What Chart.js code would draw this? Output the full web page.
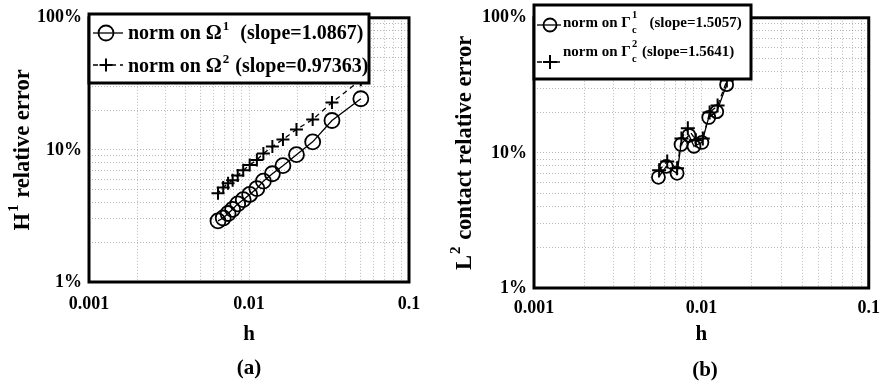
<!DOCTYPE html>
<html>
<head>
<meta charset="utf-8">
<script src="https://cdn.jsdelivr.net/npm/chart.js@4.4.1/dist/chart.umd.min.js"></script>
<style>
  body { margin: 0; background: #fff; }
  #wrap { position: relative; width: 890px; height: 385px; }
  .panel { position: absolute; top: 0; width: 445px; height: 385px; }
</style>
</head>
<body>
<div id="wrap">
  <div class="panel" style="left:0"><canvas id="chartA" width="445" height="385"></canvas></div>
  <div class="panel" style="left:445px"><canvas id="chartB" width="445" height="385"></canvas></div>
</div>
<script>
// (a) H1 relative error (%) against mesh size h
const hA = [0.05, 0.033, 0.025, 0.0198, 0.0163, 0.014, 0.0123, 0.0112, 0.0101, 0.0092, 0.0085, 0.0079, 0.0074, 0.0069, 0.0064];
const errOmega1 = [24.4, 16.7, 11.5, 9.2, 7.6, 6.6, 5.8, 5.1, 4.6, 4.2, 3.9, 3.55, 3.3, 3.05, 2.9];
const errOmega2 = [34, 22.8, 17.0, 14.3, 12.0, 10.6, 9.4, 8.4, 7.7, 7.0, 6.4, 5.9, 5.6, 5.2, 4.7];

// (b) L2 contact relative error (%) against h
const hB1 = [0.00554, 0.00617, 0.00716, 0.00756, 0.00843, 0.00903, 0.01007, 0.01107, 0.01235, 0.01415];
const errGamma1 = [6.6, 7.95, 7.06, 11.55, 13.5, 11.2, 11.95, 18.3, 20.2, 32.0];
const hB2 = [0.00559, 0.00625, 0.00716, 0.0076, 0.0083, 0.00927, 0.0102, 0.0112, 0.0125, 0.0142];
const errGamma2 = [7.43, 8.65, 7.69, 12.8, 15.2, 12.4, 12.8, 19.9, 22.4, 34.3];

// axis ticks (grid at every 1..9 x decade, labels at decades)
const xDecades = [0.001, 0.01, 0.1];
const xTickLabels = ['0.001', '0.01', '0.1'];
const yDecades = [1, 10, 100];
const yTickLabels = ['1%', '10%', '100%'];
const mantissas = [1, 2, 3, 4, 5, 6, 7, 8, 9];

const slopesA = ['1.0867', '0.97363'];
const slopesB = ['1.5057', '1.5641'];

const FONT = '"Liberation Serif", "Times New Roman", serif';
Chart.defaults.font.family = FONT;
Chart.defaults.font.weight = 'bold';
Chart.defaults.color = '#000';

function gridValues(decades) {
  const out = [];
  decades.forEach((d, i) => {
    if (i === decades.length - 1) { out.push(d); return; }
    mantissas.forEach(m => out.push(+(m * d).toPrecision(3)));
  });
  return out;
}

function pairs(xs, ys) {
  return xs.map((x, i) => ({ x: x, y: ys[i] }));
}

// draws text pieces: {t} plain, {sup, sub} small raised / lowered
function drawParts(ctx, parts, x, y, fs, sfs, supOff, subOff, measureOnly) {
  let cx = x;
  parts.forEach(p => {
    if (p.t !== undefined) {
      ctx.font = 'bold ' + fs + 'px ' + FONT;
      if (!measureOnly) ctx.fillText(p.t, cx, y);
      cx += ctx.measureText(p.t).width;
    } else {
      ctx.font = 'bold ' + sfs + 'px ' + FONT;
      let w = 0;
      if (p.sup) {
        if (!measureOnly) ctx.fillText(p.sup, cx + 1, y - supOff);
        w = Math.max(w, ctx.measureText(p.sup).width);
      }
      if (p.sub) {
        if (!measureOnly) ctx.fillText(p.sub, cx + 1, y + subOff);
        w = Math.max(w, ctx.measureText(p.sub).width);
      }
      cx += w + 2;
    }
  });
  return cx - x;
}

// frame, y title, custom legend box and panel letter
const decorPlugin = {
  id: 'decor',
  afterDraw(chart, args, o) {
    const ctx = chart.ctx;
    const a = chart.chartArea;
    ctx.save();
    ctx.strokeStyle = '#000';
    ctx.lineWidth = 3;
    ctx.strokeRect(a.left, a.top, a.right - a.left, a.bottom - a.top);

    // rotated y-axis title with superscript
    const T = o.yTitle;
    ctx.save();
    ctx.translate(T.x, (a.top + a.bottom) / 2);
    ctx.rotate(-Math.PI / 2);
    ctx.fillStyle = '#000';
    ctx.textBaseline = 'middle';
    ctx.textAlign = 'left';
    const tw = drawParts(ctx, T.parts, 0, 0, T.fs, T.sfs, T.supOff, 0, true);
    drawParts(ctx, T.parts, -tw / 2, 0, T.fs, T.sfs, T.supOff, 0, false);
    ctx.restore();

    const L = o.legend;
    ctx.fillStyle = '#fff';
    ctx.fillRect(L.x, L.y, L.w, L.h);
    ctx.strokeRect(L.x, L.y, L.w, L.h);

    L.rows.forEach((row, i) => {
      const ds = chart.data.datasets[i];
      ctx.strokeStyle = '#000';
      ctx.lineWidth = ds.borderWidth;
      ctx.setLineDash(ds.borderDash || []);
      ctx.beginPath();
      ctx.moveTo(L.lineX0, row.ly);
      ctx.lineTo(L.lineX1, row.ly);
      ctx.stroke();
      ctx.setLineDash([]);
      ctx.fillStyle = 'rgba(0,0,0,0)';
      ctx.lineWidth = ds.pointBorderWidth;
      Chart.helpers.drawPoint(ctx, {
        pointStyle: ds.pointStyle, radius: ds.pointRadius,
        borderWidth: ds.pointBorderWidth, rotation: 0
      }, L.markX, row.ly);

      ctx.fillStyle = '#000';
      ctx.textBaseline = 'alphabetic';
      ctx.textAlign = 'left';
      drawParts(ctx, row.parts, L.textX, row.ty, L.fs, L.sfs, L.supOff, L.subOff, false);
    });

    ctx.font = 'bold 21px ' + FONT;
    ctx.fillStyle = '#000';
    ctx.textAlign = 'center';
    ctx.textBaseline = 'middle';
    ctx.fillText(o.panel.text, o.panel.x, o.panel.y);
    ctx.restore();
  }
};

function makeChart(id, cfg) {
  const xGrid = gridValues(xDecades);
  const yGrid = gridValues(yDecades);
  const grid = { color: 'rgba(0,0,0,0.28)', lineWidth: 1, drawTicks: false };
  return new Chart(document.getElementById(id), {
    type: 'line',
    data: { datasets: cfg.datasets },
    plugins: [decorPlugin],
    options: {
      responsive: false,
      animation: false,
      layout: { padding: cfg.padding },
      plugins: {
        legend: { display: false },
        tooltip: { enabled: false },
        decor: { legend: cfg.legend, panel: cfg.panel, yTitle: cfg.yTitle }
      },
      scales: {
        x: {
          type: 'logarithmic',
          min: xDecades[0], max: xDecades[xDecades.length - 1],
          grid: grid,
          border: { display: false, dash: [1, 2] },
          afterBuildTicks: s => { s.ticks = xGrid.map(v => ({ value: v })); },
          afterFit: s => { s.height = cfg.xHeight; },
          ticks: {
            autoSkip: false, maxRotation: 0, padding: cfg.xTickPad,
            font: { size: 18, weight: 'bold' },
            callback: v => { const k = xDecades.indexOf(v); return k >= 0 ? xTickLabels[k] : ''; }
          },
          title: { display: true, text: 'h', font: { size: 21, weight: 'bold' }, padding: { top: 0, bottom: 5 } }
        },
        y: {
          type: 'logarithmic',
          min: yDecades[0], max: yDecades[yDecades.length - 1],
          grid: grid,
          border: { display: false, dash: [1, 2] },
          afterBuildTicks: s => { s.ticks = yGrid.map(v => ({ value: v })); },
          afterFit: s => { s.width = 89; },
          ticks: {
            autoSkip: false, padding: 7,
            font: { size: 18, weight: 'bold' },
            callback: v => { const k = yDecades.indexOf(v); return k >= 0 ? yTickLabels[k] : ''; }
          },
          title: { display: false }
        }
      }
    }
  });
}

function circleSet(label, pts, r) {
  return {
    label: label, data: pts, borderColor: '#000', borderWidth: 1.3,
    pointStyle: 'circle', pointRadius: r, pointBorderWidth: 1.8,
    pointBackgroundColor: 'rgba(0,0,0,0)', pointBorderColor: '#000', tension: 0
  };
}
function crossSet(label, pts, r) {
  return {
    label: label, data: pts, borderColor: '#000', borderWidth: 1.3, borderDash: [5, 4],
    pointStyle: 'cross', pointRadius: r, pointBorderWidth: 2,
    pointBorderColor: '#000', tension: 0
  };
}

makeChart('chartA', {
  datasets: [
    circleSet('norm on Ω1', pairs(hA, errOmega1), 7.5),
    crossSet('norm on Ω2', pairs(hA, errOmega2), 6.5)
  ],
  padding: { top: 14, right: 36, bottom: 33, left: 0 },
  xHeight: 70, xTickPad: 12,
  yTitle: { x: 23, fs: 22.5, sfs: 15, supOff: 9, parts: [{ t: 'H' }, { sup: '1' }, { t: ' relative error' }] },
  legend: {
    x: 89, y: 14, w: 280, h: 69, fs: 20, sfs: 13, supOff: 9, subOff: 6,
    lineX0: 93, lineX1: 123, markX: 106, textX: 128,
    rows: [
      { ly: 33, ty: 39, parts: [{ t: 'norm on Ω' }, { sup: '1' }, { t: '  (slope=' + slopesA[0] + ')' }] },
      { ly: 65, ty: 72, parts: [{ t: 'norm on Ω' }, { sup: '2' }, { t: ' (slope=' + slopesA[1] + ')' }] }
    ]
  },
  panel: { text: '(a)', x: 249, y: 369 }
});

makeChart('chartB', {
  datasets: [
    circleSet('norm on Γc1', pairs(hB1, errGamma1), 6.5),
    crossSet('norm on Γc2', pairs(hB2, errGamma2), 7)
  ],
  padding: { top: 17, right: 18, bottom: 33, left: 0 },
  xHeight: 64, xTickPad: 10,
  yTitle: { x: 20, fs: 22.5, sfs: 15, supOff: 9, parts: [{ t: 'L' }, { sup: '2' }, { t: ' contact relative error' }] },
  legend: {
    x: 89, y: 5, w: 217, h: 74, fs: 15, sfs: 10.5, supOff: 9, subOff: 6,
    lineX0: 92, lineX1: 116, markX: 105, textX: 118,
    rows: [
      { ly: 25, ty: 27, parts: [{ t: 'norm on Γ' }, { sup: '1', sub: 'c' }, { t: '   (slope=' + slopesB[0] + ')' }] },
      { ly: 62, ty: 56, parts: [{ t: 'norm on Γ' }, { sup: '2', sub: 'c' }, { t: ' (slope=' + slopesB[1] + ')' }] }
    ]
  },
  panel: { text: '(b)', x: 260, y: 371 }
});
</script>
</body>
</html>
